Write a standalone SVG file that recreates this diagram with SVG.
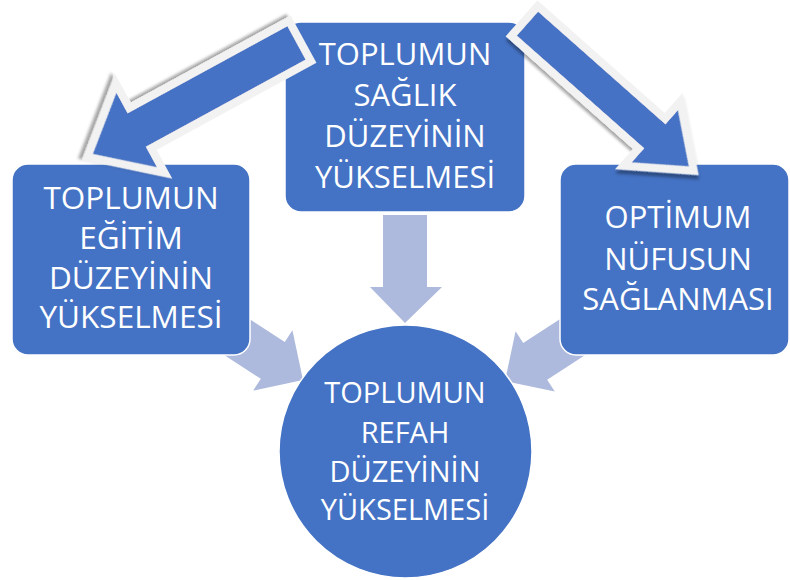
<svg xmlns="http://www.w3.org/2000/svg" width="790" height="580" viewBox="0 0 790 580">
  <defs>
    <style>
      .node { fill: #4472C4; stroke: #FFFFFF; stroke-width: 1.5; }
      .lbl { font-family: "Open Sans", "Liberation Sans", Arial, sans-serif; fill: #FFFFFF; text-anchor: middle; }
      .light { fill: #AEBADD; }
      .big { fill: #4472C4; stroke: #F2F2F2; stroke-width: 8; stroke-linejoin: miter; filter: url(#sh); }
    </style>
    <filter id="sh" x="-20%" y="-20%" width="140%" height="140%">
      <feDropShadow dx="3" dy="3" stdDeviation="1.5" flood-color="#000000" flood-opacity="0.35"/>
    </filter>
  </defs>
  <rect x="0" y="0" width="790" height="580" fill="#FFFFFF"/>

  <g id="connectors-light">
    <polygon class="light" points="383,215 427,215 427,287 442,287 405,323 370,287 383,287"/>
    <polygon class="light" transform="translate(303,380) rotate(33)" points="-120,-22 -36,-22 -36,-36 0,0 -36,36 -36,22 -120,22"/>
    <polygon class="light" transform="translate(505,381) rotate(147)" points="-120,-22 -36,-22 -36,-36 0,0 -36,36 -36,22 -120,22"/>
  </g>

  <g id="node-saglik">
    <rect class="node" x="285" y="22" width="240" height="190" rx="16"/>
    <text class="lbl" font-size="31" x="405" y="65">TOPLUMUN</text>
    <text class="lbl" font-size="31" x="405" y="106">SAĞLIK</text>
    <text class="lbl" font-size="31" x="405" y="147">DÜZEYİNİN</text>
    <text class="lbl" font-size="31" x="405" y="188">YÜKSELMESİ</text>
  </g>

  <g id="node-egitim">
    <rect class="node" x="12" y="164" width="238" height="191" rx="16"/>
    <text class="lbl" font-size="31.5" x="131" y="209">TOPLUMUN</text>
    <text class="lbl" font-size="31.5" x="131" y="249">EĞİTİM</text>
    <text class="lbl" font-size="31.5" x="131" y="289">DÜZEYİNİN</text>
    <text class="lbl" font-size="31.5" x="131" y="328">YÜKSELMESİ</text>
  </g>

  <g id="node-nufus">
    <rect class="node" x="560" y="164" width="229" height="191" rx="16"/>
    <text class="lbl" font-size="31" x="678" y="228">OPTİMUM</text>
    <text class="lbl" font-size="31" x="678" y="270">NÜFUSUN</text>
    <text class="lbl" font-size="31" x="678" y="310">SAĞLANMASI</text>
  </g>

  <g id="node-refah">
    <circle class="node" cx="405.5" cy="451.5" r="126.5"/>
    <text class="lbl" font-size="29" x="405" y="403">TOPLUMUN</text>
    <text class="lbl" font-size="29" x="405" y="443">REFAH</text>
    <text class="lbl" font-size="29" x="405" y="482">DÜZEYİNİN</text>
    <text class="lbl" font-size="29" x="405" y="520">YÜKSELMESİ</text>
  </g>

  <g id="connectors-big">
    <polygon class="big" transform="translate(300,41) rotate(151.4)" points="0,-23 182,-23 182,-51 242,0 182,51 182,23 0,23"/>
    <polygon class="big" transform="translate(524.5,21) rotate(41.5)" points="0,-20 170,-20 170,-43 226,0 170,43 170,20 0,20"/>
  </g>
</svg>
